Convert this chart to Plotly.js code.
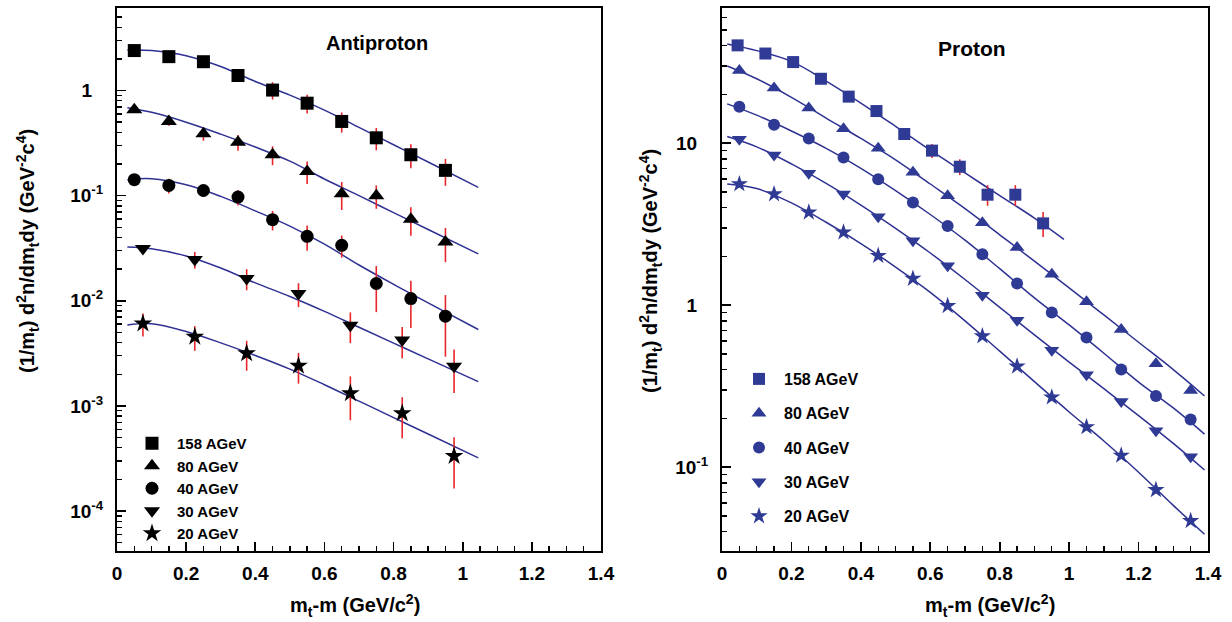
<!DOCTYPE html>
<html>
<head>
<meta charset="utf-8">
<script src="https://cdn.plot.ly/plotly-3.0.1.min.js"></script>
<style>html,body{margin:0;padding:0;background:#fff;}#chart{width:1232px;height:622px;}</style>
</head>
<body>
<div id="chart"></div>
<script>
// ---------------- Antiproton (left panel) ----------------
const apX = [0.05, 0.15, 0.25, 0.35, 0.45, 0.55, 0.65, 0.75, 0.85, 0.95];
const apXshift = [0.075, 0.225, 0.375, 0.525, 0.675, 0.825, 0.975];
const ap158 = [2.40, 2.10, 1.88, 1.39, 1.01, 0.758, 0.508, 0.355, 0.245, 0.174];
const ap158err = [0.12, 0.12, 0.13, 0.14, 0.19, 0.154, 0.11, 0.085, 0.063, 0.05];
const ap80 = [0.655, 0.508, 0.388, 0.323, 0.245, 0.170, 0.104, 0.100, 0.0596, 0.0363];
const ap80err = [0.04, 0.045, 0.055, 0.055, 0.05, 0.041, 0.031, 0.025, 0.018, 0.013];
const ap40 = [0.142, 0.125, 0.112, 0.097, 0.0591, 0.041, 0.0337, 0.0146, 0.0105, 0.00714];
const ap40err = [0.012, 0.02, 0.015, 0.0165, 0.0124, 0.011, 0.008, 0.0068, 0.005, 0.0042];
const ap30 = [0.0314, 0.0247, 0.0163, 0.0117, 0.00586, 0.00423, 0.00239];
const ap30err = [0.0025, 0.0045, 0.0037, 0.003, 0.0019, 0.0014, 0.00106];
const ap20 = [0.00608, 0.00454, 0.00316, 0.00241, 0.00132, 0.000851, 0.000334];
const ap20err = [0.0015, 0.0012, 0.001, 0.00078, 0.00059, 0.00036, 0.00017];

// fit curves (antiproton)
const apFitX = [0.03, 0.1, 0.2, 0.3, 0.4, 0.5, 0.6, 0.7, 0.8, 0.9, 1.045];
const apFit158 = [2.43, 2.40, 2.14, 1.69, 1.22, 0.905, 0.652, 0.446, 0.305, 0.209, 0.12];
const apFit80 = [0.685, 0.62, 0.50, 0.385, 0.29, 0.213, 0.144, 0.10, 0.069, 0.0477, 0.0279];
const apFit40 = [0.142, 0.145, 0.127, 0.0985, 0.0717, 0.0513, 0.0346, 0.0219, 0.01435, 0.00955, 0.00533];
const apFit30 = [0.0325, 0.0313, 0.0267, 0.0205, 0.0148, 0.011, 0.00794, 0.0056, 0.00396, 0.0028, 0.0017];
const apFit20 = [0.00588, 0.00605, 0.0051, 0.00398, 0.00302, 0.00224, 0.00159, 0.00111, 0.000774, 0.00054, 0.00032];

// ---------------- Proton (right panel) ----------------
const pX158 = [0.045, 0.125, 0.205, 0.285, 0.365, 0.445, 0.525, 0.605, 0.685, 0.765, 0.845, 0.925];
const p158 = [40.2, 35.8, 31.7, 25.0, 19.4, 15.8, 11.4, 9.0, 7.16, 4.81, 4.81, 3.20];
const p158err = [0.6, 0.6, 0.5, 0.5, 0.4, 0.4, 0.5, 0.9, 0.8, 0.7, 0.7, 0.56];
const pX = [0.05, 0.15, 0.25, 0.35, 0.45, 0.55, 0.65, 0.75, 0.85, 0.95, 1.05, 1.15, 1.25, 1.35];
const p80 = [28.1, 21.9, 16.5, 12.3, 9.31, 6.62, 4.74, 3.23, 2.27, 1.55, 1.05, 0.708, 0.435, 0.297];
const p40 = [16.8, 13.0, 10.7, 8.15, 5.99, 4.30, 3.08, 2.06, 1.36, 0.902, 0.631, 0.40, 0.275, 0.197];
const p30 = [10.6, 8.47, 6.52, 4.86, 3.51, 2.50, 1.75, 1.15, 0.807, 0.527, 0.372, 0.254, 0.168, 0.116];
const p20 = [5.60, 4.85, 3.74, 2.82, 2.02, 1.46, 0.99, 0.644, 0.419, 0.27, 0.177, 0.118, 0.0723, 0.0466];

// fit curves (proton)
const pFit158X = [0.015, 0.1, 0.2, 0.3, 0.4, 0.5, 0.6, 0.7, 0.8, 0.9, 0.985];
const pFit158 = [41, 37.3, 32, 24.2, 17.7, 12.7, 9.05, 6.55, 4.75, 3.45, 2.55];
const pFitX = [0.015, 0.1, 0.2, 0.3, 0.4, 0.5, 0.6, 0.7, 0.8, 0.9, 1.0, 1.1, 1.2, 1.3, 1.39];
const pFit80 = [30, 25, 19.2, 14.3, 10.7, 7.9, 5.6, 3.95, 2.72, 1.87, 1.28, 0.87, 0.59, 0.40, 0.275];
const pFit40 = [17.5, 14.9, 11.9, 9.3, 7.0, 5.1, 3.63, 2.52, 1.68, 1.11, 0.755, 0.505, 0.335, 0.232, 0.16];
const pFit30 = [11.0, 9.5, 7.45, 5.65, 4.15, 2.98, 2.1, 1.44, 0.97, 0.655, 0.445, 0.305, 0.208, 0.14, 0.096];
const pFit20 = [5.6, 5.25, 4.28, 3.25, 2.4, 1.72, 1.2, 0.8, 0.52, 0.337, 0.219, 0.145, 0.093, 0.058, 0.0385];

// labels
const energies = ['158 AGeV', '80 AGeV', '40 AGeV', '30 AGeV', '20 AGeV'];
const leftTickVals = [1e-4, 1e-3, 1e-2, 1e-1, 1];
const leftTickText = ['10<sup>-4</sup>', '10<sup>-3</sup>', '10<sup>-2</sup>', '10<sup>-1</sup>', '1<sup>&nbsp;&nbsp;&nbsp;</sup>'];
const rightTickVals = [0.1, 1, 10];
const rightTickText = ['10<sup>-1</sup>', '1<sup>&nbsp;&nbsp;&nbsp;</sup>', '10<sup>&nbsp;&nbsp;&nbsp;</sup>'];

// ---------------- styling ----------------
const W = 1232, H = 622;
const fx = v => v / W;
const fy = v => 1 - v / H;
const FONT = 'Liberation Sans, Arial, Helvetica, sans-serif';
const LINE = '#2E3192';
const BLUE = '#2E3A94';
const RED = '#E8262B';
const symbols = ['square', 'triangle-up', 'circle', 'triangle-down', 'star'];
const leftSizes = [13, 14, 13, 14, 14];
const rightSizes = [12, 13, 12, 13, 13];

function minorLog(lo, hi) {
  const out = [];
  for (let e = lo; e <= hi; e++) for (let m = 2; m <= 9; m++) out.push(m * Math.pow(10, e));
  return out;
}

const traces = [];
function fitLine(x, y, xa, ya) {
  traces.push({x: x, y: y, xaxis: xa, yaxis: ya, mode: 'lines', type: 'scatter',
    line: {color: LINE, width: 1.5, shape: 'spline', smoothing: 1}, showlegend: false, hoverinfo: 'skip'});
}
[apFit158, apFit80, apFit40, apFit30, apFit20].forEach(f => fitLine(apFitX, f, 'x', 'y'));
fitLine(pFit158X, pFit158, 'x2', 'y2');
[pFit80, pFit40, pFit30, pFit20].forEach(f => fitLine(pFitX, f, 'x2', 'y2'));

const leftData = [[apX, ap158, ap158err], [apX, ap80, ap80err], [apX, ap40, ap40err], [apXshift, ap30, ap30err], [apXshift, ap20, ap20err]];
leftData.forEach((d, i) => {
  traces.push({x: d[0], y: d[1], xaxis: 'x', yaxis: 'y', type: 'scatter', mode: 'markers',
    name: energies[i], legend: 'legend',
    marker: {symbol: symbols[i], size: leftSizes[i], color: '#000'},
    error_y: {type: 'data', array: d[2], visible: true, color: RED, thickness: 1.6, width: 0}});
});
const rightData = [[pX158, p158, p158err], [pX, p80, null], [pX, p40, null], [pX, p30, null], [pX, p20, null]];
rightData.forEach((d, i) => {
  const t = {x: d[0], y: d[1], xaxis: 'x2', yaxis: 'y2', type: 'scatter', mode: 'markers',
    name: energies[i], legend: 'legend2', legendgroup: 'p' + i,
    marker: {symbol: symbols[i], size: rightSizes[i], color: BLUE}};
  if (d[2]) t.error_y = {type: 'data', array: d[2], visible: true, color: RED, thickness: 1.6, width: 0};
  traces.push(t);
});

const xCommon = {range: [0, 1.4], dtick: 0.2, tick0: 0, ticks: 'inside', ticklen: 9, tickwidth: 1.6, tickcolor: '#000',
  showline: true, linewidth: 2, linecolor: '#000', mirror: true, showgrid: false, zeroline: false,
  tickfont: {size: 19, family: FONT, color: '#000', weight: 'bold'}, ticklabelstandoff: 4,
  minor: {dtick: 0.05, tick0: 0, ticks: 'inside', ticklen: 5, tickwidth: 1.4, tickcolor: '#000', showgrid: false}};
const yCommon = {type: 'log', tickmode: 'array', ticks: 'inside', ticklen: 9, tickwidth: 1.6, tickcolor: '#000',
  showline: true, linewidth: 2, linecolor: '#000', mirror: true, showgrid: false, zeroline: false,
  tickfont: {size: 19, family: FONT, color: '#000', weight: 'bold'}, ticklabelstandoff: 8,
  minor: {tickmode: 'array', tickvals: minorLog(-6, 2), ticks: 'inside', ticklen: 5, tickwidth: 1.4, tickcolor: '#000', showgrid: false}};

const yTitle = '(1/m<sub>t</sub>) d<sup>2</sup>n/dm<sub>t</sub>dy (GeV<sup>-2</sup>c<sup>4</sup>)';
const xTitle = 'm<sub>t</sub>-m (GeV/c<sup>2</sup>)';
function ann(text, x, y, size, angle) {
  return {text: text, xref: 'paper', yref: 'paper', x: fx(x), y: fy(y), xanchor: 'center', yanchor: 'middle',
    showarrow: false, textangle: angle || 0, font: {size: size, family: FONT, color: '#000', weight: 'bold'}};
}

const layout = {
  width: W, height: H, margin: {l: 0, r: 0, t: 0, b: 0},
  paper_bgcolor: '#fff', plot_bgcolor: '#fff',
  font: {family: FONT, color: '#000', weight: 'bold', size: 16},
  xaxis: Object.assign({}, xCommon, {domain: [fx(117), fx(601)], anchor: 'y'}),
  yaxis: Object.assign({}, yCommon, {domain: [fy(551), fy(8)], anchor: 'x', range: [-4.38, 0.785],
    tickvals: leftTickVals, ticktext: leftTickText}),
  xaxis2: Object.assign({}, xCommon, {domain: [fx(722), fx(1208)], anchor: 'y2'}),
  yaxis2: Object.assign({}, yCommon, {domain: [fy(551), fy(8)], anchor: 'x2', range: [-1.518, 1.835],
    tickvals: rightTickVals, ticktext: rightTickText}),
  legend: {x: fx(127), xanchor: 'left', y: fy(427), yanchor: 'top', bgcolor: 'rgba(0,0,0,0)',
    font: {size: 15, family: FONT, color: '#000', weight: 'bold'}, itemwidth: 40, tracegroupgap: 0},
  legend2: {x: fx(734), xanchor: 'left', y: fy(362), yanchor: 'top', bgcolor: 'rgba(0,0,0,0)',
    font: {size: 16, family: FONT, color: '#000', weight: 'bold'}, itemwidth: 40, traceorder: 'grouped', tracegroupgap: 10.5},
  annotations: [
    ann('Antiproton', 377, 43, 20),
    ann('Proton', 972, 49, 21),
    ann(yTitle, 27, 251, 20, -90),
    ann(yTitle, 650, 271, 20, -90),
    ann(xTitle, 355, 605, 20),
    ann(xTitle, 990, 605, 20)
  ],
  showlegend: true
};

Plotly.newPlot('chart', traces, layout, {displayModeBar: false, staticPlot: true});
</script>
</body>
</html>
